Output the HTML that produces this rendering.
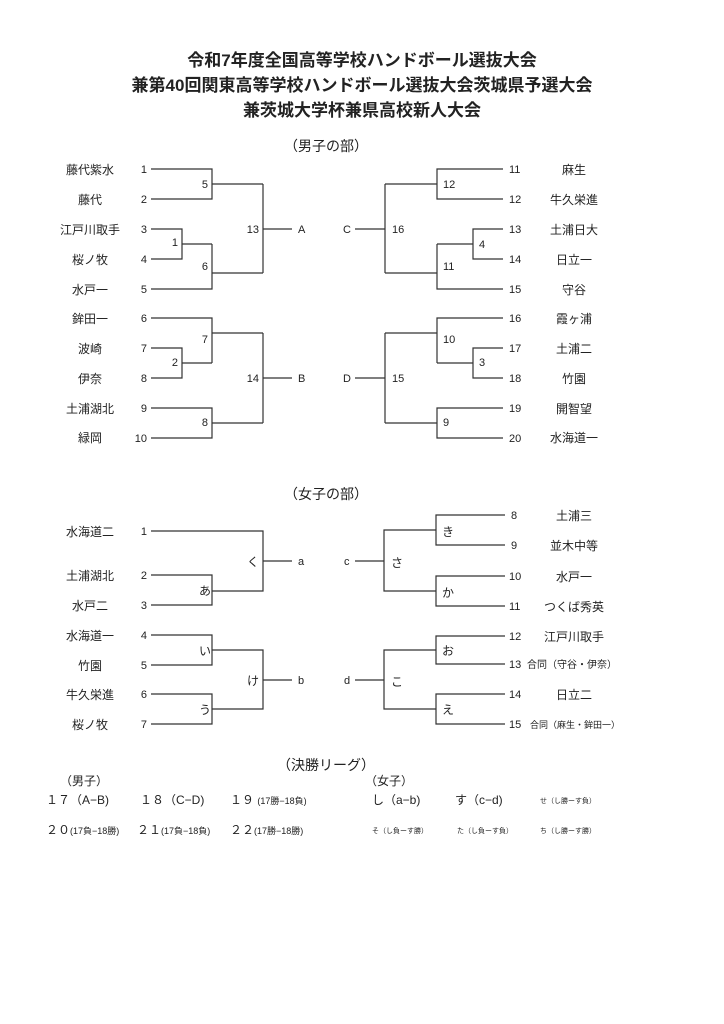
<!DOCTYPE html>
<html><head><meta charset="utf-8"><style>
body{margin:0;background:#fff}
svg{display:block}
text{font-family:"Liberation Sans","Noto Sans CJK JP",sans-serif;fill:#222}
.t{font-size:17px;font-weight:bold}
.n{font-size:11px}
.m{font-size:12px}
.h{font-size:14px}
.s{font-size:9px}
line,polyline{stroke:#333;stroke-width:1.2;fill:none}
</style></head><body>
<svg width="724" height="1024" viewBox="0 0 724 1024">
<g class="t" text-anchor="middle">
<text x="362" y="66" class="t">令和7年度全国高等学校ハンドボール選抜大会</text>
<text x="362" y="91" class="t">兼第40回関東高等学校ハンドボール選抜大会茨城県予選大会</text>
<text x="362" y="116" class="t">兼茨城大学杯兼県高校新人大会</text>
</g>
<text x="326" y="151" class="h" text-anchor="middle">（男子の部）</text>
<text x="326" y="499" class="h" text-anchor="middle">（女子の部）</text>
<text x="326" y="770" class="h" text-anchor="middle">（決勝リーグ）</text>

<!-- Men left -->
<g class="m" text-anchor="middle">
<text x="90" y="174">藤代紫水</text><text x="90" y="204">藤代</text><text x="90" y="234">江戸川取手</text><text x="90" y="264">桜ノ牧</text><text x="90" y="294">水戸一</text>
<text x="90" y="323">鉾田一</text><text x="90" y="353">波崎</text><text x="90" y="383">伊奈</text><text x="90" y="413">土浦湖北</text><text x="90" y="442">緑岡</text>
</g>
<g class="n" text-anchor="end">
<text x="147" y="173">1</text><text x="147" y="203">2</text><text x="147" y="233">3</text><text x="147" y="263">4</text><text x="147" y="293">5</text>
<text x="147" y="322">6</text><text x="147" y="352">7</text><text x="147" y="382">8</text><text x="147" y="412">9</text><text x="147" y="442">10</text>
<text x="208" y="188">5</text><text x="178" y="246">1</text><text x="208" y="270">6</text><text x="259" y="233">13</text>
<text x="208" y="343">7</text><text x="178" y="366">2</text><text x="208" y="426">8</text><text x="259" y="382">14</text>
</g>
<polyline points="151,169 212,169 212,199 151,199"/>
<line x1="212" y1="184" x2="263" y2="184"/>
<polyline points="151,229 182,229 182,259 151,259"/>
<line x1="182" y1="244" x2="212" y2="244"/>
<polyline points="212,244 212,289 151,289"/>
<line x1="212" y1="273" x2="263" y2="273"/>
<line x1="263" y1="184" x2="263" y2="273"/>
<line x1="263" y1="229" x2="292" y2="229"/>
<polyline points="151,318 212,318 212,363"/>
<polyline points="151,348 182,348 182,378 151,378"/>
<line x1="182" y1="363" x2="212" y2="363"/>
<line x1="212" y1="333" x2="263" y2="333"/>
<polyline points="151,408 212,408 212,438 151,438"/>
<line x1="212" y1="423" x2="263" y2="423"/>
<line x1="263" y1="333" x2="263" y2="423"/>
<line x1="263" y1="378" x2="292" y2="378"/>
<text x="298" y="233" class="n">A</text><text x="298" y="382" class="n">B</text>

<!-- Men right -->
<text x="343" y="233" class="n">C</text><text x="343" y="382" class="n">D</text>
<line x1="355" y1="229" x2="385" y2="229"/><line x1="355" y1="378" x2="385" y2="378"/>
<line x1="385" y1="184" x2="385" y2="273"/>
<line x1="385" y1="184" x2="437" y2="184"/><line x1="385" y1="273" x2="437" y2="273"/>
<polyline points="503,169 437,169 437,199 503,199"/>
<polyline points="503,229 473,229 473,259 503,259"/>
<line x1="437" y1="244" x2="473" y2="244"/>
<polyline points="437,244 437,289 503,289"/>
<line x1="385" y1="333" x2="385" y2="423"/>
<line x1="385" y1="333" x2="437" y2="333"/><line x1="385" y1="423" x2="437" y2="423"/>
<polyline points="503,318 437,318 437,363"/>
<polyline points="503,348 473,348 473,378 503,378"/>
<line x1="437" y1="363" x2="473" y2="363"/>
<polyline points="503,408 437,408 437,438 503,438"/>
<g class="n">
<text x="392" y="233">16</text><text x="443" y="188">12</text><text x="443" y="270">11</text><text x="479" y="248">4</text>
<text x="392" y="382">15</text><text x="443" y="343">10</text><text x="479" y="366">3</text><text x="443" y="426">9</text>
<text x="509" y="173">11</text><text x="509" y="203">12</text><text x="509" y="233">13</text><text x="509" y="263">14</text><text x="509" y="293">15</text>
<text x="509" y="322">16</text><text x="509" y="352">17</text><text x="509" y="382">18</text><text x="509" y="412">19</text><text x="509" y="442">20</text>
</g>
<g class="m" text-anchor="middle">
<text x="574" y="174">麻生</text><text x="574" y="204">牛久栄進</text><text x="574" y="234">土浦日大</text><text x="574" y="264">日立一</text><text x="574" y="294">守谷</text>
<text x="574" y="323">霞ヶ浦</text><text x="574" y="353">土浦二</text><text x="574" y="383">竹園</text><text x="574" y="413">開智望</text><text x="574" y="442">水海道一</text>
</g>

<!-- Women left -->
<g class="m" text-anchor="middle">
<text x="90" y="536">水海道二</text><text x="90" y="580">土浦湖北</text><text x="90" y="610">水戸二</text><text x="90" y="640">水海道一</text><text x="90" y="670">竹園</text><text x="90" y="699">牛久栄進</text><text x="90" y="729">桜ノ牧</text>
</g>
<g class="n" text-anchor="end">
<text x="147" y="535">1</text><text x="147" y="579">2</text><text x="147" y="609">3</text><text x="147" y="639">4</text><text x="147" y="669">5</text><text x="147" y="698">6</text><text x="147" y="728">7</text>
</g>
<g class="m" text-anchor="end">
<text x="211" y="595">あ</text><text x="211" y="655">い</text><text x="211" y="714">う</text><text x="259" y="566">く</text><text x="259" y="685">け</text>
</g>
<polyline points="151,531 263,531 263,591 212,591"/>
<polyline points="151,575 212,575 212,605 151,605"/>
<line x1="263" y1="561" x2="292" y2="561"/>
<polyline points="151,635 212,635 212,665 151,665"/>
<polyline points="151,694 212,694 212,724 151,724"/>
<polyline points="212,650 263,650 263,709 212,709"/>
<line x1="263" y1="680" x2="292" y2="680"/>
<text x="298" y="565" class="n">a</text><text x="298" y="684" class="n">b</text>

<!-- Women right -->
<text x="344" y="565" class="n">c</text><text x="344" y="684" class="n">d</text>
<line x1="355" y1="561" x2="384" y2="561"/><line x1="355" y1="680" x2="384" y2="680"/>
<polyline points="436,530 384,530 384,591 436,591"/>
<polyline points="505,515 436,515 436,545 505,545"/>
<polyline points="505,576 436,576 436,606 505,606"/>
<polyline points="436,650 384,650 384,709 436,709"/>
<polyline points="505,636 436,636 436,664 505,664"/>
<polyline points="505,694 436,694 436,724 505,724"/>
<g class="m">
<text x="442" y="536">き</text><text x="442" y="597">か</text><text x="391" y="567">さ</text>
<text x="442" y="655">お</text><text x="442" y="714">え</text><text x="391" y="686">こ</text>
</g>
<g class="n">
<text x="511" y="519">8</text><text x="511" y="549">9</text><text x="509" y="580">10</text><text x="509" y="610">11</text>
<text x="509" y="640">12</text><text x="509" y="668">13</text><text x="509" y="698">14</text><text x="509" y="728">15</text>
</g>
<g class="m" text-anchor="middle">
<text x="574" y="520">土浦三</text><text x="574" y="550">並木中等</text><text x="574" y="581">水戸一</text><text x="574" y="611">つくば秀英</text>
<text x="574" y="641">江戸川取手</text><text x="574" y="699">日立二</text>
</g>
<text x="527" y="668" style="font-size:10px">合同（守谷・伊奈）</text>
<text x="530" y="728" class="s">合同（麻生・鉾田一）</text>

<!-- Finals -->
<text x="60" y="785" class="m">（男子）</text>
<text x="365" y="785" class="m">（女子）</text>
<g class="m">
<text x="46" y="804">１７（A−B)</text>
<text x="140" y="804">１８（C−D)</text>
<text x="230" y="804">１９ <tspan style="font-size:9px">(17勝−18負)</tspan></text>
<text x="372" y="804">し（a−b)</text>
<text x="455" y="804">す（c−d)</text>
<text x="46" y="834">２０<tspan style="font-size:9px">(17負−18勝)</tspan></text>
<text x="137" y="834">２１<tspan style="font-size:9px">(17負−18負)</tspan></text>
<text x="230" y="834">２２<tspan style="font-size:9px">(17勝−18勝)</tspan></text>
</g>
<g style="font-size:7px">
<text x="540" y="803" class="s" style="font-size:7px">せ（し勝ーす負）</text>
<text x="372" y="833" class="s" style="font-size:7px">そ（し負ーす勝）</text>
<text x="457" y="833" class="s" style="font-size:7px">た（し負ーす負）</text>
<text x="540" y="833" class="s" style="font-size:7px">ち（し勝ーす勝）</text>
</g>
</svg>
</body></html>
